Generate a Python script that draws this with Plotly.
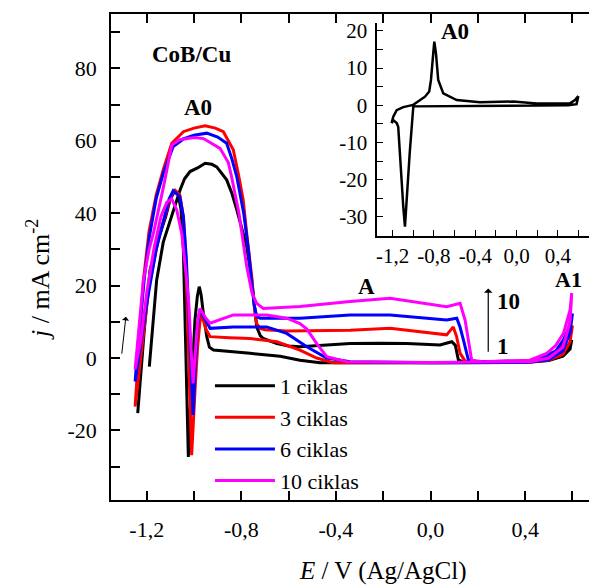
import plotly.graph_objects as go

# ---- data ----
x_1 = [-1.189,-1.172,-1.158,-1.13,-1.094,-1.075,-1.059,-1.040,-1.017,-0.985,-0.953,-0.925,-0.904,-0.862,-0.840,-0.819,-0.777,-0.756,-0.745,-0.735,-0.72,-0.707,-0.65,-0.60,-0.552,-0.45,-0.34,-0.213,-0.1,0.04,0.09,0.105,0.118,0.14,0.25,0.42,0.49,0.53,0.562,0.585,0.597,
       0.59,0.56,0.50,0.40,0.2,0.0,-0.3,-0.467,-0.552,-0.636,-0.763,-0.85,-0.918,-0.935,-0.946,-0.960,-0.970,-0.978,-0.986,-0.996,-1.005,-1.014,-1.024,-1.030,-1.036,-1.045,-1.055,-1.068,-1.082,-1.100,-1.120,-1.15,-1.186,-1.21,-1.238]
y_1 = [-2.4,10,21.5,32,39.5,43.5,46.4,49.5,51.5,52.5,53.8,53.5,52.8,49.2,45.5,40.9,30.7,21.5,14,8.6,6.2,5.4,4.0,3.3,3.1,3.5,4.0,4.1,4.0,3.6,4.5,3.5,-0.6,-1.0,-1.2,-0.9,0.0,0.5,1.7,3.2,5.0,
       2.5,0.5,-0.7,-1.2,-1.3,-1.3,-1.3,-1.3,-0.6,0.5,1.3,1.8,2.2,3.0,5.9,12,17.5,19.7,17,10.5,0,-11.6,-27.3,-10,10,30,41,45.5,46,44,39,33,24.3,8,-15.2]

x_3 = [-1.249,-1.235,-1.214,-1.19,-1.16,-1.13,-1.094,-1.045,-1.0,-0.953,-0.91,-0.876,-0.834,-0.810,-0.792,-0.775,-0.756,-0.745,-0.735,-0.72,-0.70,-0.608,-0.34,-0.171,0.068,0.096,0.11,0.125,0.146,0.2,0.42,0.49,0.53,0.562,0.585,0.600,
       0.59,0.56,0.50,0.40,0.0,-0.3,-0.411,-0.481,-0.552,-0.650,-0.763,-0.85,-0.932,-0.950,-0.967,-0.975,-0.985,-0.995,-1.003,-1.010,-1.018,-1.026,-1.035,-1.045,-1.060,-1.080,-1.095,-1.115,-1.15,-1.19,-1.22,-1.249]
y_3 = [-13.4,0,21.5,35,45,52,59.3,62.5,63.5,64.1,63.5,62.5,57.5,50,43.6,33,22.5,14,9.5,8.2,7.8,7.5,7.7,8.2,6.4,8.6,6,1.3,-0.8,-1.0,-0.8,0.3,1.2,3.6,6.0,9.0,
       4.5,1.0,-0.6,-1.2,-1.3,-1.3,-1.3,0,2.2,4.5,5.4,5.6,5.9,8,11.9,10,3,-8,-18,-26.8,-10,10,28,39,45,46.3,45,41,33,20,3,-13.4]

x_6 = [-1.249,-1.235,-1.21,-1.19,-1.16,-1.13,-1.088,-1.045,-1.0,-0.946,-0.90,-0.862,-0.840,-0.819,-0.79,-0.77,-0.755,-0.745,-0.735,-0.72,-0.552,-0.34,-0.171,0.068,0.111,0.125,0.139,0.160,0.2,0.42,0.48,0.53,0.562,0.585,0.600,
       0.59,0.56,0.50,0.40,0.0,-0.340,-0.439,-0.523,-0.608,-0.693,-0.834,-0.932,-0.950,-0.975,-0.985,-0.995,-1.004,-1.012,-1.022,-1.033,-1.045,-1.060,-1.088,-1.105,-1.125,-1.16,-1.2,-1.249]
y_6 = [-6.5,5,22,33,44,51,58.4,60.5,61.5,62.1,61,59.3,55,50,40,30,20,14.5,11.5,11,11,11.9,11.9,10.5,11,8.5,5,-0.5,-1.0,-0.8,0.4,2.0,5.0,8.5,12.3,
       7,2,-0.5,-1.2,-1.3,-1.0,0,3.1,6.8,8.6,8.6,8.2,10.5,13.3,9,-2,-15.7,-5,12,28,39,44.5,46.2,44,39,30,15,-6.5]

x_10 = [-1.249,-1.233,-1.214,-1.19,-1.172,-1.15,-1.13,-1.094,-1.06,-1.0,-0.96,-0.890,-0.855,-0.841,-0.81,-0.777,-0.755,-0.735,-0.707,-0.552,-0.34,-0.171,0.068,0.125,0.146,0.174,0.22,0.42,0.491,0.53,0.562,0.590,0.597,
        0.59,0.56,0.50,0.42,0.0,-0.354,-0.439,-0.481,-0.523,-0.552,-0.608,-0.693,-0.834,-0.932,-0.950,-0.975,-0.985,-0.995,-1.004,-1.012,-1.022,-1.031,-1.052,-1.073,-1.094,-1.115,-1.14,-1.17,-1.2,-1.225,-1.249]
y_10 = [-3.1,8,21.5,30,34.4,41,47,58.8,60.3,60.9,60.6,57.9,54,50,40,25.2,18,15.1,13.7,14.2,15.6,16.5,14.2,15.1,10.5,-0.6,-1.0,-0.6,1.3,3.5,6.8,13.3,17.9,
        10,3,0,-1.0,-1.2,-1.0,0.4,4,8,9.5,11,11.9,11.9,9.6,11,13.7,10,2,-7,2,15,21.5,34.4,40.9,43.9,43,39,30,18,5,-3.1]

x_inset = [0.597,0.58,0.5,0.0,-0.5,-0.9,-1.0,-1.035,-1.081,-1.097,-1.129,-1.146,-1.161,-1.194,-1.21,-1.20,-1.194,-1.161,-1.097,-1.001,-0.936,-0.887,-0.846,-0.829,-0.807,-0.797,-0.781,-0.759,-0.710,-0.580,-0.355,-0.033,0.194,0.516,0.564,0.597]
y_inset = [2.5,0.3,0.0,-0.1,-0.2,-0.2,-0.3,-12.9,-32.6,-27.3,-12.9,-5.8,-4.8,-4.0,-4.8,-3.5,-3.1,-1.3,-0.5,0.1,1.4,2.3,3.7,6.8,14,17.1,14,6.8,3.2,1.4,0.8,1.0,0.5,0.5,1.4,2.5]

series_names = ["1 ciklas", "3 ciklas", "6 ciklas", "10 ciklas"]
series_colors = ["#000000", "#ff0000", "#0000ff", "#ff00ff"]
series_x = [x_1, x_3, x_6, x_10]
series_y = [y_1, y_3, y_6, y_10]

main_xticks = [-1.2, -1.0, -0.8, -0.6, -0.4, -0.2, 0.0, 0.2, 0.4, 0.6]
main_xlabels = ["-1,2", "", "-0,8", "", "-0,4", "", "0,0", "", "0,4", ""]
main_yticks = [-30, -20, -10, 0, 10, 20, 30, 40, 50, 60, 70, 80, 90]
main_ylabels = ["", "-20", "", "0", "", "20", "", "40", "", "60", "", "80", ""]
inset_xticks = main_xticks
inset_xlabels = main_xlabels
inset_yticks = [-30, -25, -20, -15, -10, -5, 0, 5, 10, 15, 20]
inset_ylabels = ["-30", "", "-20", "", "-10", "", "0", "", "10", "", "20"]

FONT = "Liberation Serif, Times New Roman, serif"

fig = go.Figure()
for nm, c, xs, ys in zip(series_names, series_colors, series_x, series_y):
    fig.add_trace(go.Scatter(x=xs, y=ys, mode="lines", name=nm,
                             line=dict(color=c, width=3), xaxis="x", yaxis="y"))

fig.add_trace(go.Scatter(x=x_inset, y=y_inset, mode="lines", showlegend=False,
                         line=dict(color="#000000", width=2.5), xaxis="x2", yaxis="y2"))

axis_common = dict(ticks="inside", showline=True, linecolor="black", tickcolor="black",
                   showgrid=False, zeroline=False, automargin=False)

fig.update_layout(
    width=589, height=586,
    margin=dict(l=111, r=0, t=14, b=86),
    paper_bgcolor="white", plot_bgcolor="white",
    font=dict(family=FONT, color="black"),
    xaxis=dict(domain=[0, 1], range=[-1.351, 0.670], tickmode="array",
               tickvals=main_xticks, ticktext=main_xlabels, mirror="ticks",
               ticklen=9, tickwidth=1.5, linewidth=1.5, ticklabelstandoff=9,
               tickfont=dict(family=FONT, size=22, color="black"), **axis_common),
    yaxis=dict(domain=[0, 1], range=[-39.2, 95], tickmode="array",
               tickvals=main_yticks, ticktext=main_ylabels, mirror=False,
               ticklen=9, tickwidth=1.5, linewidth=1.5, ticklabelstandoff=8,
               tickfont=dict(family=FONT, size=22, color="black"), **axis_common),
    xaxis2=dict(domain=[0.557, 1.0], anchor="y2", range=[-1.349, 0.70], tickmode="array",
                tickvals=inset_xticks, ticktext=inset_xlabels, ticklen=6, tickwidth=1.3,
                linewidth=1.5, tickfont=dict(family=FONT, size=21, color="black"), **axis_common),
    yaxis2=dict(domain=[0.5438, 0.9815], anchor="x2", range=[-35.05, 22.1], tickmode="array",
                tickvals=inset_yticks, ticktext=inset_ylabels, ticklen=6, tickwidth=1.3,
                linewidth=1.5, ticklabelstandoff=4,
                tickfont=dict(family=FONT, size=21, color="black"), **axis_common),
    showlegend=True,
    legend=dict(x=0.207, y=0.278, xanchor="left", yanchor="top", bgcolor="rgba(0,0,0,0)",
                font=dict(family=FONT, size=22, color="black"), itemwidth=60,
                tracegroupgap=0),
)

ann = [
    dict(text="<b>CoB/Cu</b>", x=-1.010, y=83.7, xref="x", yref="y", font=dict(size=23)),
    dict(text="<b>A0</b>", x=-0.983, y=69.1, xref="x", yref="y", font=dict(size=23)),
    dict(text="<b>A</b>", x=-0.270, y=19.7, xref="x", yref="y", font=dict(size=23)),
    dict(text="<b>A1</b>", x=0.583, y=21.6, xref="x", yref="y", font=dict(size=22)),
    dict(text="<b>10</b>", x=0.329, y=15.6, xref="x", yref="y", font=dict(size=23)),
    dict(text="<b>1</b>", x=0.308, y=3.1, xref="x", yref="y", font=dict(size=23)),
    dict(text="<b>A0</b>", x=-0.597, y=19.8, xref="x2", yref="y2", font=dict(size=23)),
    dict(text="<i>j</i> / mA cm<sup>-2</sup>", x=(38 - 111) / 478, y=(500 - 280) / 486,
         xref="paper", yref="paper", textangle=-90, font=dict(size=26)),
    dict(text="<i>E</i> / V (Ag/AgCl)", x=(382 - 111) / 478, y=(500 - 571) / 486,
         xref="paper", yref="paper", font=dict(size=25)),
]
for a in ann:
    a.setdefault("showarrow", False)
    a["xanchor"] = "center"
    a["yanchor"] = "middle"
    a["font"] = dict(family=FONT, color="black", **a["font"])
    fig.add_annotation(**a)

# arrows
fig.add_annotation(x=0.244, y=19.2, ax=0.244, ay=1.3, xref="x", yref="y", axref="x", ayref="y",
                   text="", showarrow=True, arrowhead=1, arrowwidth=1.2, arrowsize=1.2, arrowcolor="black")
fig.add_annotation(x=-1.288, y=11.4, ax=-1.306, ay=0.8, xref="x", yref="y", axref="x", ayref="y",
                   text="", showarrow=True, arrowhead=1, arrowwidth=1.0, arrowsize=1.2, arrowcolor="black")

fig.write_html("out.html", config={"displayModeBar": False},
               post_script="document.body.style.margin='0px';document.body.style.overflow='hidden';")
